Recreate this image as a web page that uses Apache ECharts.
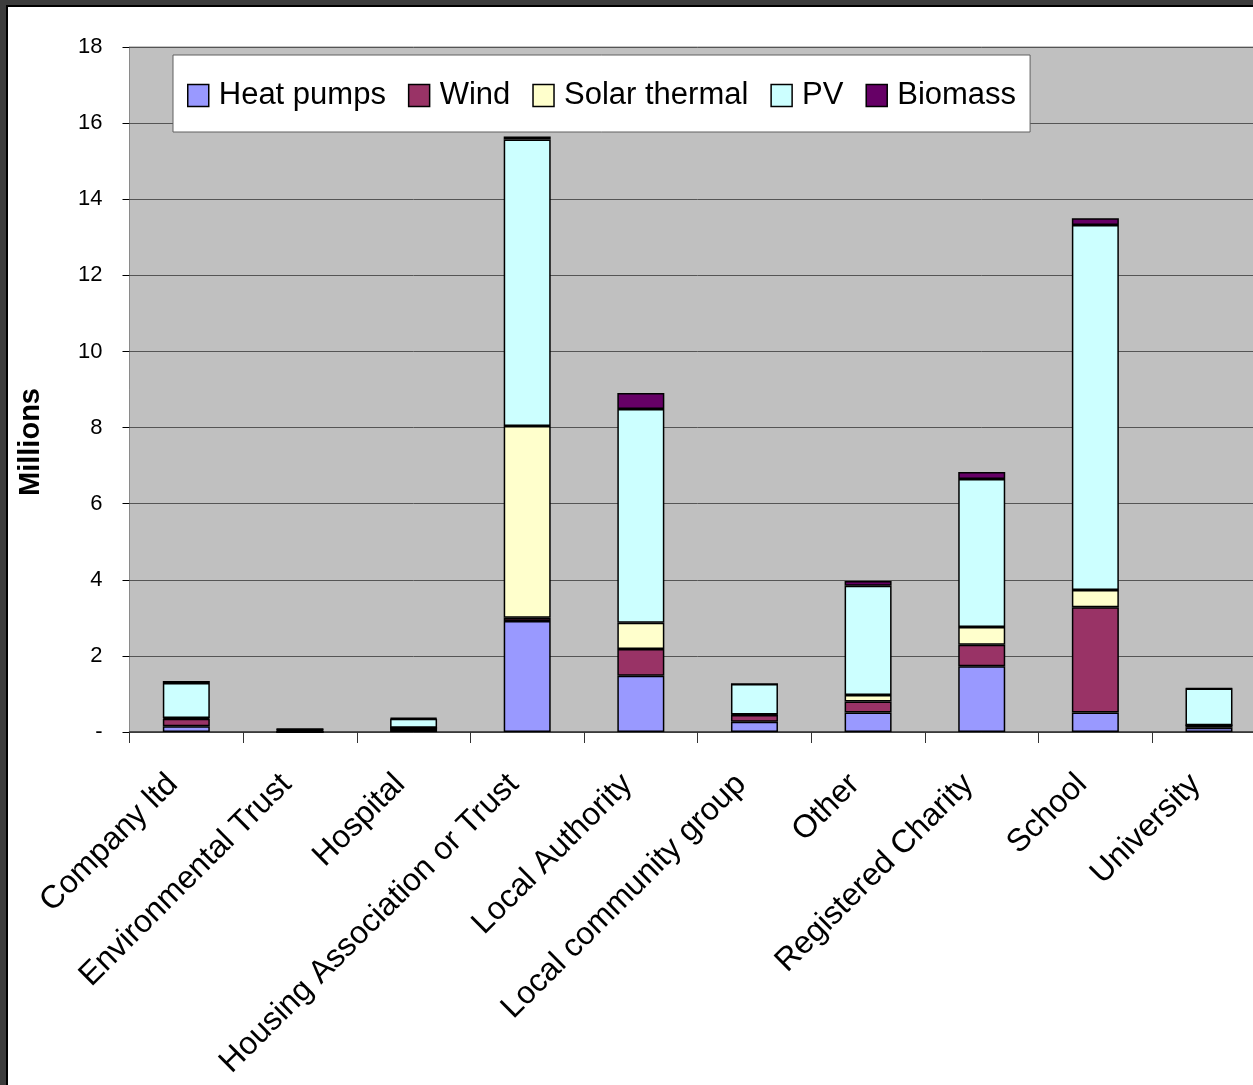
<!DOCTYPE html>
<html>
<head>
<meta charset="utf-8">
<script src="https://cdn.jsdelivr.net/npm/echarts@6/dist/echarts.min.js"></script>
<style>
html,body{margin:0;padding:0;width:1253px;height:1085px;background:#3c3c3c;overflow:hidden;}
#wrap{position:absolute;left:6px;top:5px;width:1245px;height:1078px;border-left:2px solid #000;border-top:2px solid #000;background:#fff;overflow:hidden;}
#c{position:absolute;left:0;top:0;width:1300px;height:1078px;}
</style>
</head>
<body>
<div id="wrap"><div id="c"></div></div>
<script>
const categories = ['Company ltd','Environmental Trust','Hospital','Housing Association or Trust','Local Authority','Local community group','Other','Registered Charity','School','University'];
const seriesNames = ['Heat pumps','Wind','Solar thermal','PV','Biomass'];
const heatPumps = [0.15, 0.00, 0.05, 2.92, 1.48, 0.27, 0.51, 1.73, 0.51, 0.11];
const wind      = [0.20, 0.00, 0.06, 0.08, 0.70, 0.18, 0.29, 0.56, 2.77, 0.07];
const solar     = [0.02, 0.00, 0.00, 5.04, 0.69, 0.01, 0.17, 0.47, 0.45, 0.00];
const pv        = [0.92, 0.08, 0.24, 7.53, 5.62, 0.80, 2.87, 3.89, 9.59, 0.96];
const biomass   = [0.05, 0.00, 0.02, 0.08, 0.42, 0.00, 0.13, 0.18, 0.18, 0.01];
const yTicks = [0, 2, 4, 6, 8, 10, 12, 14, 16, 18];
const colors = ['#9999FF','#993366','#FFFFCC','#CCFFFF','#660066'];
const values = [heatPumps, wind, solar, pv, biomass];

const chart = echarts.init(document.getElementById('c'));
const FONT = 'Liberation Sans, Arial, sans-serif';
chart.setOption({
  animation: false,
  color: colors,
  grid: {left: 121.5, top: 40, width: 1136.3, height: 685, show: true, backgroundColor: '#C0C0C0', borderColor: '#8a8a8a', borderWidth: 1},
  legend: {
    left: 165, top: 48,
    data: seriesNames,
    backgroundColor: '#fff', borderColor: '#606060', borderWidth: 1,
    padding: [25, 14, 21, 14],
    itemWidth: 21, itemHeight: 22, itemGap: 22,
    icon: 'rect',
    itemStyle: {borderColor: '#000', borderWidth: 1.5},
    textStyle: {fontFamily: FONT, fontSize: 31, color: '#000', padding: [0, 0, 0, 5]}
  },
  xAxis: {
    type: 'category', data: categories,
    axisLine: {show: true, lineStyle: {color: '#333', width: 1.5}},
    axisTick: {show: true, length: 11, lineStyle: {color: '#333', width: 1}},
    axisLabel: {rotate: 45, margin: 34, fontFamily: FONT, fontSize: 32, color: '#000', interval: 0, padding: [0, 19, 16, 0]}
  },
  yAxis: {
    type: 'value', min: 0, max: 18, interval: 2,
    axisLine: {show: true, lineStyle: {color: '#8a8a8a', width: 1}},
    axisTick: {show: true, length: 7, lineStyle: {color: '#000', width: 1}},
    splitLine: {show: true, lineStyle: {color: '#555', width: 1}},
    axisLabel: {margin: 27, fontFamily: FONT, fontSize: 22, color: '#000',
      formatter: v => yTicks.includes(v) ? (v === 0 ? '-' : String(v)) : ''}
  },
  graphic: [{
    type: 'text',
    x: 23, y: 435,
    rotation: Math.PI / 2,
    style: {text: 'Millions', font: 'bold 29px ' + FONT, fill: '#000', align: 'center', verticalAlign: 'middle'}
  }],
  series: seriesNames.map((name, i) => ({
    name: name, type: 'bar', stack: 'total', barWidth: 47,
    data: values[i],
    itemStyle: {color: colors[i], borderColor: '#000', borderWidth: 1.5}
  }))
});
</script>
</body>
</html>
